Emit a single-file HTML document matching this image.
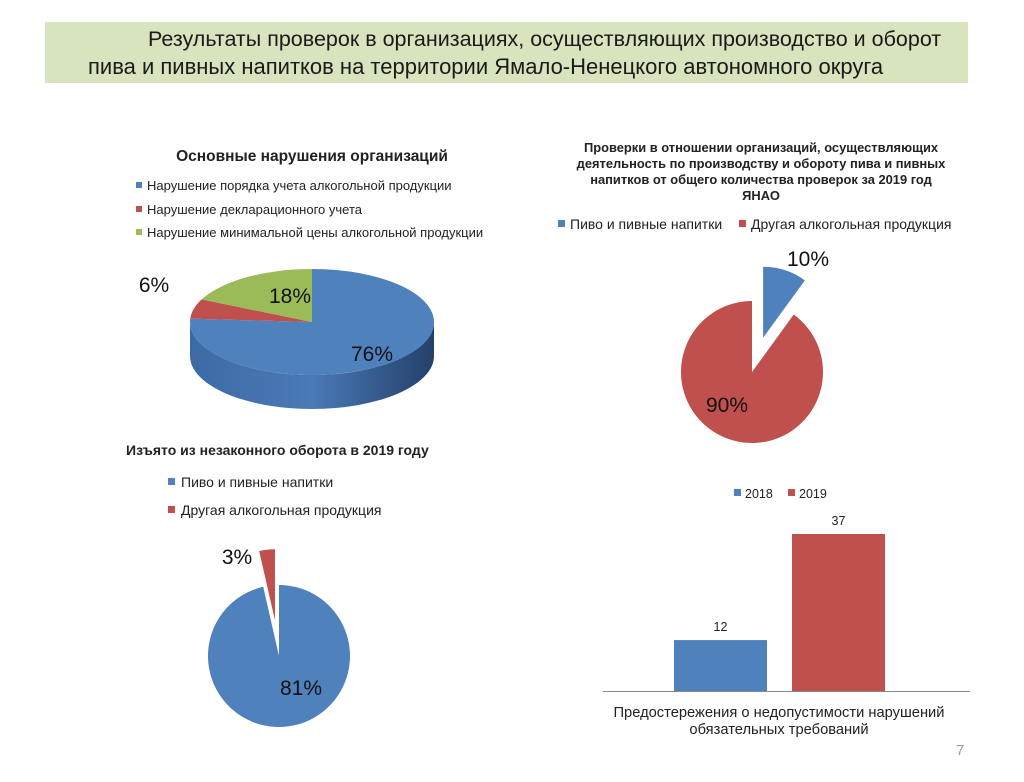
<!DOCTYPE html>
<html><head><meta charset="utf-8"><style>
body{margin:0;width:1024px;height:782px;background:#fff;font-family:"Liberation Sans","DejaVu Sans",sans-serif;overflow:hidden;position:relative}
.t{position:absolute;white-space:nowrap;color:#1a1a1a}
</style></head><body>
<div style="position:absolute;left:45px;top:22px;width:923px;height:61px;background:#d7e4bd"></div>
<div class="t" style="left:148px;top:27px;font-size:21.5px">Результаты проверок в организациях, осуществляющих производство и оборот</div>
<div class="t" style="left:88px;top:54px;font-size:22px">пива и пивных напитков на территории Ямало-Ненецкого автономного округа</div>
<svg width="1024" height="782" style="position:absolute;left:0;top:0" font-family="Liberation Sans, DejaVu Sans, sans-serif">
<defs>
<linearGradient id="side" x1="0" x2="1"><stop offset="0" stop-color="#3d6aa3"/><stop offset="0.5" stop-color="#4a7ab8"/><stop offset="1" stop-color="#24406a"/></linearGradient>
</defs>
<g id="g1"></g><g id="g2"></g><g id="g3"></g><g id="g4"></g>
<text x="312" y="161" text-anchor="middle" font-size="15.5" font-weight="bold" fill="#222">Основные нарушения организаций</text>
<rect x="136" y="182" width="6" height="6" fill="#4f81bd"/><text x="147" y="190" font-size="13" fill="#222">Нарушение порядка учета алкогольной продукции</text>
<rect x="136" y="206" width="6" height="6" fill="#c0504d"/><text x="147" y="214" font-size="13" fill="#222">Нарушение декларационного учета</text>
<rect x="136" y="229" width="6" height="6" fill="#9bbb59"/><text x="147" y="237" font-size="13" fill="#222">Нарушение минимальной цены алкогольной продукции</text>
<text x="761" y="152" text-anchor="middle" font-size="12.9" font-weight="bold" fill="#222"><tspan x="761">Проверки в отношении организаций, осуществляющих</tspan><tspan x="761" dy="16">деятельность по производству и обороту пива и пивных</tspan><tspan x="761" dy="16">напитков от общего количества проверок за 2019 год</tspan><tspan x="761" dy="16">ЯНАО</tspan></text>
<rect x="558" y="220" width="7" height="7" fill="#4f81bd"/><text x="570" y="229" font-size="14" fill="#222">Пиво и пивные напитки</text>
<rect x="739" y="220" width="7" height="7" fill="#c0504d"/><text x="751" y="229" font-size="14" fill="#222">Другая алкогольная продукция</text>
<text x="126" y="455" font-size="14" font-weight="bold" fill="#222">Изъято из незаконного оборота в 2019 году</text>
<rect x="168" y="478" width="7" height="7" fill="#4f81bd"/><text x="181" y="487" font-size="14" fill="#222">Пиво и пивные напитки</text>
<rect x="168" y="506" width="7" height="7" fill="#c0504d"/><text x="181" y="515" font-size="14" fill="#222">Другая алкогольная продукция</text>
<rect x="734" y="489" width="7" height="7" fill="#4f81bd"/><text x="745" y="498" font-size="12.5" fill="#222">2018</text>
<rect x="788" y="489" width="7" height="7" fill="#c0504d"/><text x="799" y="498" font-size="12.5" fill="#222">2019</text>
<line x1="603" y1="691.5" x2="970" y2="691.5" stroke="#888"/>
<text x="779" y="717" text-anchor="middle" font-size="14.7" fill="#222"><tspan x="779">Предостережения о недопустимости нарушений</tspan><tspan x="779" dy="17">обязательных требований</tspan></text>
<text x="956" y="755" font-size="15" fill="#999">7</text>
</svg>
<script>
const pie1Labels=["76%","6%","18%"];
const pie1Values=[76,6,18];
const pie2Values=[10,90];
const pie2Labels=["10%","90%"];
const pie3Values=[81,3];
const pie3Labels=["81%","3%"];
const barYears=["2018","2019"];
const barValues=[12,37];
const NS="http://www.w3.org/2000/svg";
function mk(p,tag,a){const e=document.createElementNS(NS,tag);for(const k in a)e.setAttribute(k,a[k]);p.appendChild(e);return e;}
const C=["#4f81bd","#c0504d","#9bbb59"];
(function(){
const g=document.getElementById('g1');const cx=312,cy=322,rx=122,ry=53,d=34;
const tot=pie1Values.reduce((a,b)=>a+b,0);
const pt=(a,dy)=>[cx+rx*Math.sin(a),cy-ry*Math.cos(a)+(dy||0)];
const side=mk(g,'path',{d:`M${cx-rx},${cy} A${rx},${ry} 0 0 0 ${cx+rx},${cy} L${cx+rx},${cy+d} A${rx},${ry} 0 0 1 ${cx-rx},${cy+d} Z`,fill:'url(#side)'});


let a0=0;
pie1Values.forEach((v,i)=>{const a1=a0+v/tot*2*Math.PI;const p0=pt(a0),p1=pt(a1);
const s=mk(g,'path',{d:`M${cx},${cy} L${p0[0]},${p0[1]} A${rx},${ry} 0 ${a1-a0>Math.PI?1:0} 1 ${p1[0]},${p1[1]} Z`,fill:C[i]});


a0=a1;});
const lp=[[372,361],[154,292],[290,303]];
pie1Labels.forEach((l,i)=>{const t=mk(g,'text',{x:lp[i][0],y:lp[i][1],'font-size':21,'text-anchor':'middle',fill:'#111'});t.textContent=l;

});
})();
function flatPie(gid,vals,labels,cx,cy,r,cols,explode,lp,name){
const g=document.getElementById(gid);const tot=vals.reduce((a,b)=>a+b,0);let a0=0;
vals.forEach((v,i)=>{const a1=a0+v/tot*2*Math.PI;const m=(a0+a1)/2;const off=explode[i];
const ox=cx+off*Math.sin(m),oy=cy-off*Math.cos(m);
const p0=[ox+r*Math.sin(a0),oy-r*Math.cos(a0)],p1=[ox+r*Math.sin(a1),oy-r*Math.cos(a1)];
const s=mk(g,'path',{d:`M${ox},${oy} L${p0[0]},${p0[1]} A${r},${r} 0 ${a1-a0>Math.PI?1:0} 1 ${p1[0]},${p1[1]} Z`,fill:cols[i]});


a0=a1;});
labels.forEach((l,i)=>{const t=mk(g,'text',{x:lp[i][0],y:lp[i][1],'font-size':21,'text-anchor':'middle',fill:'#111'});t.textContent=l;

});
}
flatPie('g2',pie2Values,pie2Labels,752,372,71,[C[0],C[1]],[36,0],[[808,266],[727,412]],'pie2');
flatPie('g3',pie3Values,pie3Labels,279,656,71,[C[0],C[1]],[0,36],[[301,695],[237,564]],'pie3');
(function(){
const g=document.getElementById('g4');const base=691,k=157/37;const xs=[674,792];
barValues.forEach((v,i)=>{const h=v*k;
const b=mk(g,'rect',{x:xs[i],y:base-h,width:93,height:h,fill:C[i]});


const t=mk(g,'text',{x:xs[i]+46.5,y:base-h-9,'font-size':12.5,'text-anchor':'middle',fill:'#222'});t.textContent=v;

});
})();
</script>
</body></html>
